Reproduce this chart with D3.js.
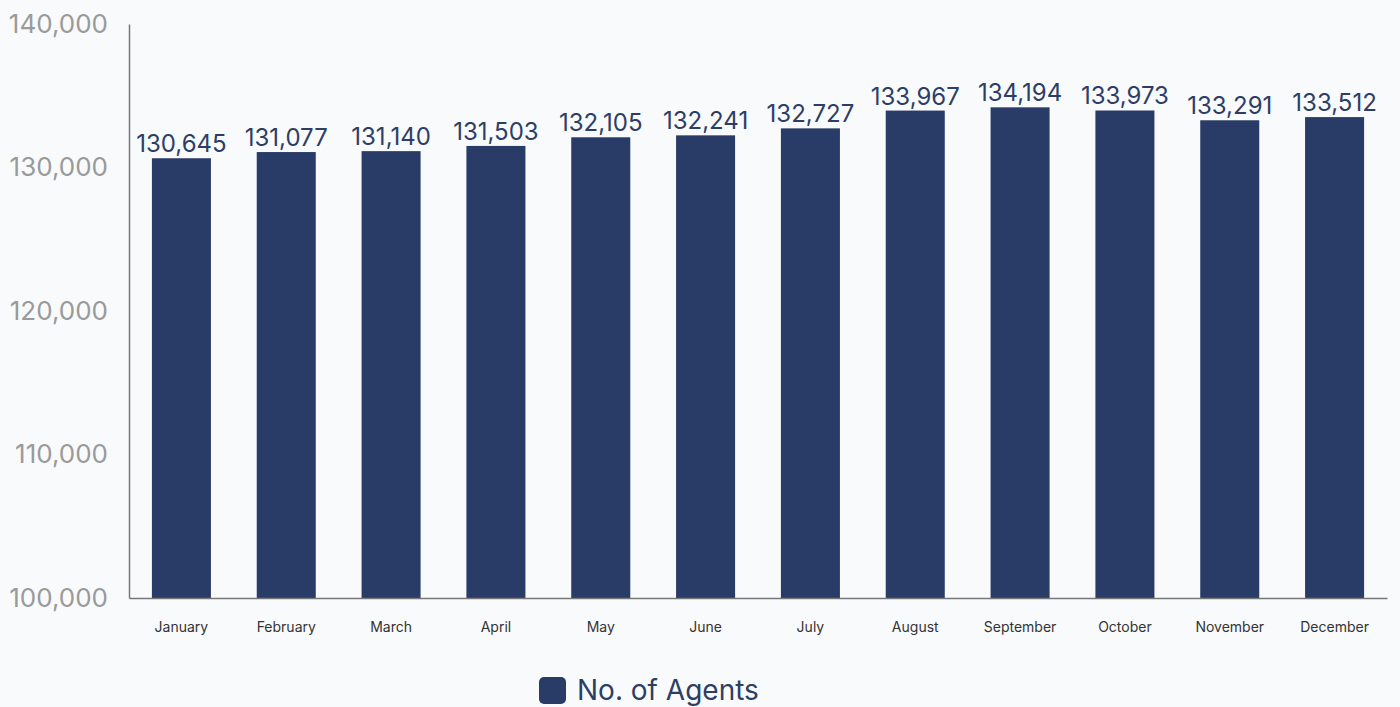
<!DOCTYPE html>
<html>
<head>
<meta charset="utf-8">
<script src="https://cdn.jsdelivr.net/npm/d3@7"></script>
<style>
  html, body { margin: 0; padding: 0; background: #f9fafc; }
  svg { display: block; font-family: Inter, "Noto Sans", sans-serif; }
</style>
</head>
<body>
<div id="chart"></div>
<script>
const WIDTH = 1400;
const HEIGHT = 707;
const BAR_COLOR = "#293b67";

// --------------- Data ---------------
const months = ["January", "February", "March", "April", "May", "June",
  "July", "August", "September", "October", "November", "December"];
const agents = [130645, 131077, 131140, 131503, 132105, 132241,
  132727, 133967, 134194, 133973, 133291, 133512];
const yTicks = [100000, 110000, 120000, 130000, 140000];
const seriesName = "No. of Agents";

const margin = { top: 24, right: 13, bottom: 109, left: 129 };

const svg = d3.select("#chart")
  .append("svg")
  .attr("width", WIDTH)
  .attr("height", HEIGHT);

const x = d3.scaleBand()
  .domain(months)
  .range([margin.left, WIDTH - margin.right])
  .paddingInner(0.437)
  .paddingOuter(0.2185);

const y = d3.scaleLinear()
  .domain([100000, 140000])
  .range([HEIGHT - margin.bottom, margin.top]);

const fmt = d3.format(",");

// bars
svg.append("g")
  .selectAll("rect")
  .data(agents)
  .enter()
  .append("rect")
  .attr("x", (d, i) => x(months[i]))
  .attr("y", d => y(d))
  .attr("width", x.bandwidth())
  .attr("height", d => y(100000) - y(d))
  .attr("fill", BAR_COLOR);

// value labels
svg.append("g")
  .selectAll("text")
  .data(agents)
  .enter()
  .append("text")
  .attr("x", (d, i) => x(months[i]) + x.bandwidth() / 2)
  .attr("y", d => y(d) - 6)
  .attr("text-anchor", "middle")
  .attr("fill", "#2d3e66")
  .style("font-size", "24px")
  .text(d => fmt(d));

// y axis
const yAxis = svg.append("g")
  .attr("transform", `translate(${margin.left},0)`)
  .call(d3.axisLeft(y).tickValues(yTicks).tickFormat(fmt).tickSize(0).tickPadding(21));
yAxis.select(".domain").attr("stroke", "#777").attr("stroke-width", 1.5);
yAxis.selectAll("text")
  .attr("fill", "#9a9a9a")
  .style("font-size", "26px")
  .style("font-family", "Inter, sans-serif");

// x axis
const xAxis = svg.append("g")
  .attr("transform", `translate(0,${y(100000)})`)
  .call(d3.axisBottom(x).tickSize(0).tickPadding(24));
xAxis.select(".domain").attr("stroke", "#777").attr("stroke-width", 1.5);
xAxis.selectAll("text")
  .attr("fill", "#333")
  .style("font-size", "14px")
  .style("font-family", "Inter, sans-serif");

// legend
const legend = svg.append("g").attr("transform", "translate(539,677)");
legend.append("rect")
  .attr("width", 27)
  .attr("height", 27)
  .attr("rx", 5)
  .attr("fill", BAR_COLOR);
legend.append("text")
  .attr("x", 38)
  .attr("y", 23)
  .attr("fill", "#2d3e66")
  .style("font-size", "28px")
  .text(seriesName);
</script>
</body>
</html>
